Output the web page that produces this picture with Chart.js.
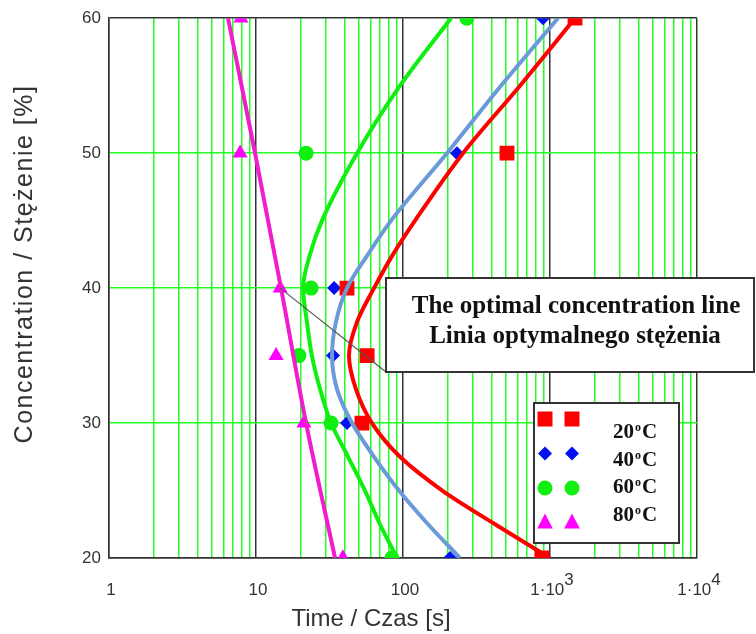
<!DOCTYPE html>
<html lang="en">
<head>
<meta charset="UTF-8">
<title>Concentration vs time</title>
<script src="https://cdn.jsdelivr.net/npm/chart.js"></script>
<style>
  body { margin: 0; background: #fff; }
  #wrap { width: 756px; height: 634px; }
</style>
</head>
<body>
<div id="wrap"><canvas id="chart" width="756" height="634"></canvas></div>
<script>
// measured points: concentration [%] vs time [s]
const concLevels = [60, 50, 40, 35, 30, 20];
const time20 = [1480, 510, 41.6, 57, 52.6, 880];
const time40 = [896, 233, 34, 33.4, 41.6, 209];
const time60 = [272, 21.9, 23.7, 19.6, 32.4, 84];
const time80 = [7.9, 7.8, 14.6, 13.7, 21.2, 39];

// fitted curves
const fitConc = [60, 55, 50, 45, 42.5, 40, 37.5, 35, 32.5, 30, 27.5, 25, 22.5, 20];
const fit20 = [1479, 625, 256, 120.7, 85.5, 63.5, 48.7, 42.9, 47.9, 61.5, 95.4, 185, 423, 1000];
const fit40 = [1133, 464, 199, 82.9, 57.8, 41.6, 35.0, 32.9, 35.6, 45.0, 63.5, 93.9, 148, 244];
const fit60 = [212, 95.4, 48.7, 28.1, 23.3, 20.9, 22.2, 24.0, 27.3, 32.4, 42.3, 55.1, 69.7, 91];
const fit80Conc = [60, 50, 40, 30, 20];
const fit80 = [6.45, 9.85, 14.8, 21.9, 34.5];

const xDecades = [1, 10, 100, 1000, 10000];
const xTickBase = ['1', '10', '100', '1·10', '1·10'];
const xTickSup = ['', '', '', '3', '4'];
const yTicks = [20, 30, 40, 50, 60];
const legendTemps = ['20', '40', '60', '80'];

const RED = '#ff0000', BLUE = '#0010f0', BLUE_LINE = '#6a9ad8',
      GREEN = '#11ee11', MAGENTA = '#ff00ff', MAGENTA_LINE = '#f21ccc';
const SANS = '"Liberation Sans", Arial, sans-serif';
const SERIF = '"Liberation Serif", "Times New Roman", serif';

const pts = (xs, ys) => xs.map((x, i) => ({x: x, y: ys[i]}));

// every 1..9 x 10^k line on the log axis
const xGrid = [];
xDecades.slice(0, -1).forEach(d => { for (let m = 1; m < 10; m++) xGrid.push(m * d); });
xGrid.push(10000);

// curves run along concentration, so y is the index axis
const curve = (data, color) => ({
  data: data, indexAxis: 'y', borderColor: color, borderWidth: 4, pointRadius: 0,
  cubicInterpolationMode: 'monotone', fill: false, clip: 0
});
const marks = (data, color, style, r) => ({
  data: data, showLine: false, pointStyle: style, pointRadius: r,
  pointBackgroundColor: color, pointBorderColor: color, pointBorderWidth: 0,
  pointHoverRadius: r, clip: 0
});

const overlay = {
  id: 'overlay',
  afterDraw(chart) {
    const c = chart.ctx, xs = chart.scales.x, ys = chart.scales.y;
    c.save();

    // x tick labels with raised exponent
    c.fillStyle = '#333';
    c.textBaseline = 'alphabetic';
    xDecades.forEach((v, i) => {
      c.font = '17px ' + SANS;
      const wb = c.measureText(xTickBase[i]).width;
      const ws = xTickSup[i] ? c.measureText(xTickSup[i]).width : 0;
      const x0 = xs.getPixelForValue(v) - (wb + ws) / 2 + 2;
      c.textAlign = 'left';
      c.fillText(xTickBase[i], x0, 595);
      if (xTickSup[i]) c.fillText(xTickSup[i], x0 + wb, 585);
    });

    // axis titles
    c.font = '24px ' + SANS;
    c.textAlign = 'center';
    c.fillText('Time / Czas [s]', 371, 626);
    c.save();
    c.translate(32, 264);
    c.rotate(-Math.PI / 2);
    c.font = '25px ' + SANS;
    c.letterSpacing = '1.5px';
    c.fillText('Concentration / Stężenie [%]', 0, 0);
    c.restore();

    // annotation
    const ax = xs.getPixelForValue(time80[2]), ay = ys.getPixelForValue(concLevels[2]);
    c.strokeStyle = '#555';
    c.lineWidth = 1.2;
    c.beginPath();
    c.moveTo(ax, ay);
    c.lineTo(386, 372);
    c.stroke();
    c.fillStyle = '#fff';
    c.fillRect(386, 278, 368, 94);
    c.strokeStyle = '#333';
    c.lineWidth = 2;
    c.strokeRect(386, 278, 368, 94);
    c.fillStyle = '#111';
    c.font = 'bold 25px ' + SERIF;
    c.fillText('The optimal concentration line', 576, 313);
    c.fillText('Linia optymalnego stężenia', 575, 343);

    // legend
    c.fillStyle = '#fff';
    c.fillRect(534, 403, 145, 140);
    c.strokeStyle = '#333';
    c.lineWidth = 2;
    c.strokeRect(534, 403, 145, 140);
    const cols = [RED, BLUE, GREEN, MAGENTA];
    const shapes = ['rect', 'diamond', 'circle', 'triangle'];
    legendTemps.forEach((t, i) => {
      const my = 419 + i * 34.5;
      [545, 572].forEach(mx => {
        c.fillStyle = cols[i];
        c.beginPath();
        if (shapes[i] === 'rect') c.rect(mx - 7.5, my - 7.5, 15, 15);
        else if (shapes[i] === 'diamond') {
          c.moveTo(mx - 7, my); c.lineTo(mx, my - 7); c.lineTo(mx + 7, my); c.lineTo(mx, my + 7);
        } else if (shapes[i] === 'circle') c.arc(mx, my, 7.5, 0, Math.PI * 2);
        else {
          c.moveTo(mx, my - 9); c.lineTo(mx + 7.8, my + 6); c.lineTo(mx - 7.8, my + 6);
        }
        c.closePath();
        c.fill();
      });
      const by = 438 + i * 27.7;
      c.fillStyle = '#111';
      c.textAlign = 'left';
      c.font = 'bold 21px ' + SERIF;
      c.fillText(t, 613, by);
      let x = 613 + c.measureText(t).width + 1;
      c.font = 'bold 12px ' + SERIF;
      c.fillText('o', x, by - 7);
      x += c.measureText('o').width + 1;
      c.font = 'bold 21px ' + SERIF;
      c.fillText('C', x, by);
    });
    c.restore();
  }
};

new Chart(document.getElementById('chart'), {
  type: 'line',
  data: {
    datasets: [
      curve(pts(fit60, fitConc), GREEN),
      curve(pts(fit40, fitConc), BLUE_LINE),
      curve(pts(fit20, fitConc), RED),
      curve(pts(fit80, fit80Conc), MAGENTA_LINE),
      marks(pts(time20, concLevels), RED, 'rect', 10.5),
      marks(pts(time40, concLevels), BLUE, 'rectRot', 7),
      marks(pts(time60, concLevels), GREEN, 'circle', 7.5),
      marks(pts(time80, concLevels), MAGENTA, 'triangle', 8.7)
    ]
  },
  options: {
    responsive: false,
    animation: false,
    events: [],
    layout: { padding: { top: 15, right: 59, left: 0, bottom: 0 } },
    plugins: { legend: { display: false }, tooltip: { enabled: false } },
    scales: {
      x: {
        type: 'logarithmic',
        min: 1, max: 10000,
        afterBuildTicks: s => { s.ticks = xGrid.map(v => ({value: v})); },
        afterFit: s => { s.height = 76; },
        ticks: { display: false },
        grid: {
          drawTicks: false,
          lineWidth: 1.5,
          color: ctx => xDecades.includes(ctx.tick.value) ? '#333' : '#22ff22'
        },
        border: { color: '#333', width: 1.5 }
      },
      y: {
        type: 'linear',
        min: 20, max: 60,
        afterBuildTicks: s => { s.ticks = yTicks.map(v => ({value: v})); },
        afterFit: s => { s.width = 109; },
        ticks: { padding: 8, color: '#333', font: { family: SANS, size: 17 } },
        grid: {
          drawTicks: false,
          lineWidth: 1.5,
          color: ctx => (ctx.tick.value === 20 || ctx.tick.value === 60) ? '#333' : '#22ff22'
        },
        border: { color: '#333', width: 1.5 }
      }
    }
  },
  plugins: [overlay]
});
</script>
</body>
</html>
